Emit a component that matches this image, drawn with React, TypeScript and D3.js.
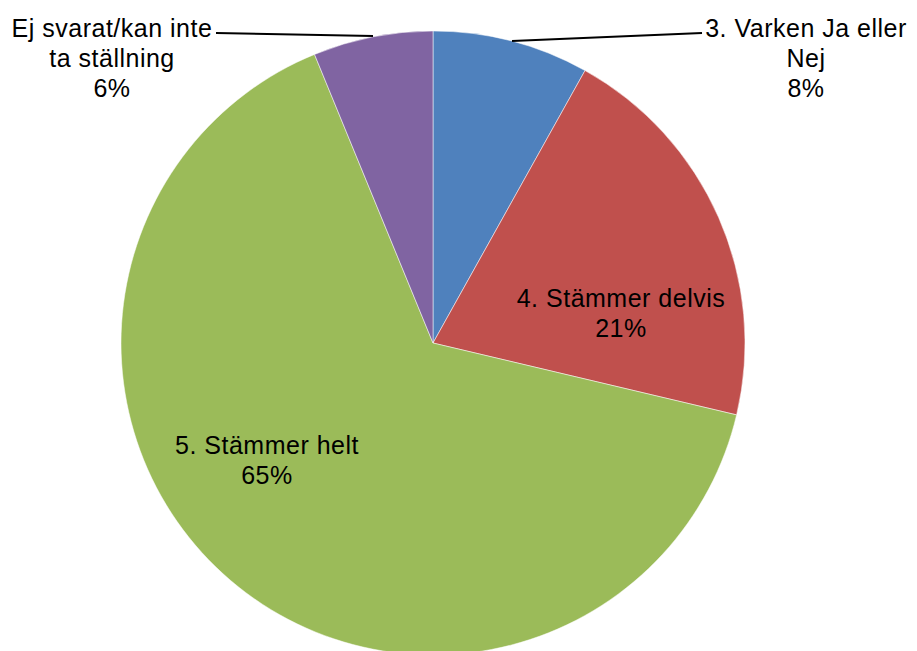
import React from "react";
import * as d3 from "d3";

// answer categories, clockwise from 12 o'clock
const categories = [
  "3. Varken Ja eller Nej",
  "4. Stämmer delvis",
  "5. Stämmer helt",
  "Ej svarat/kan inte ta ställning",
];
const values = [8.1, 20.6, 65.1, 6.2];
const colors = ["#4F81BD", "#C0504D", "#9BBB59", "#8064A2"];

const W = 917;
const H = 651;
const cx = 433;
const cy = 343;
const radius = 312;

// label layout: lines of text, anchor point, optional leader line
const labelLayout = [
  { lines: ["3. Varken Ja eller", "Nej"], x: 806, y: 28, leader: [[702, 33], [512, 41]] },
  { lines: ["4. Stämmer delvis"], x: 621, y: 298, leader: null },
  { lines: ["5. Stämmer helt"], x: 267, y: 445, leader: null },
  { lines: ["Ej svarat/kan inte", "ta ställning"], x: 112, y: 28, leader: [[216, 33], [373, 36]] },
];

const App = () => {
  const pie = d3
    .pie<number>()
    .sort(null)
    .value((d) => d);
  const arcs = pie(values);
  const arc = d3
    .arc<d3.PieArcDatum<number>>()
    .innerRadius(0)
    .outerRadius(radius);
  const total = d3.sum(values);
  const pct = d3.format(".0%");

  return (
    <svg
      width={W}
      height={H}
      style={{ position: "absolute", left: 0, top: 0, background: "#fff" }}
      fontFamily="Liberation Sans, Arial, sans-serif"
    >
      <g transform={`translate(${cx},${cy})`}>
        {arcs.map((a, i) => (
          <path
            key={categories[i]}
            d={arc(a) || ""}
            fill={colors[i]}
            stroke="#fff"
            strokeOpacity={0.5}
            strokeWidth={1}
          />
        ))}
      </g>
      {labelLayout.map((l, i) => (
        <g key={i}>
          {l.leader && (
            <line
              x1={l.leader[0][0]}
              y1={l.leader[0][1]}
              x2={l.leader[1][0]}
              y2={l.leader[1][1]}
              stroke="#000"
              strokeWidth={2}
            />
          )}
          <text
            x={l.x}
            y={l.y}
            textAnchor="middle"
            dominantBaseline="central"
            fontSize={25}
            letterSpacing={0.5}
            fill="#000"
          >
            {[...l.lines, pct(values[i] / total)].map((s, j) => (
              <tspan key={j} x={l.x} dy={j === 0 ? 0 : 30}>
                {s}
              </tspan>
            ))}
          </text>
        </g>
      ))}
    </svg>
  );
};

export default App;
